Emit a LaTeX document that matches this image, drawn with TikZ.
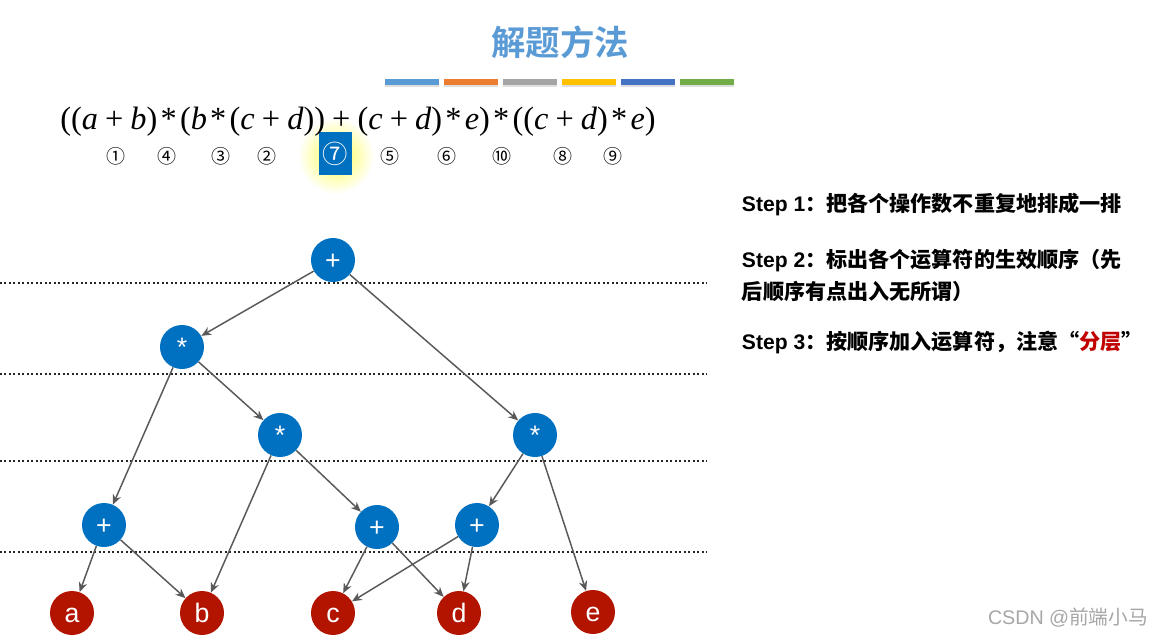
\documentclass[tikz,border=0pt]{standalone}
\usepackage{fontspec}
\setmainfont{Liberation Sans}
\newfontfamily\cjk{Noto Sans CJK SC}
\newfontfamily\cjkb{Noto Sans CJK SC Bold}
\newfontfamily\exprfont{Liberation Serif}
\usepackage{xcolor}
\usetikzlibrary{arrows.meta,positioning,calc,shadows}
\definecolor{titleblue}{RGB}{91,155,213}
\definecolor{opblue}{RGB}{0,112,192}
\definecolor{leafred}{RGB}{178,20,0}
\definecolor{arrgray}{RGB}{89,89,89}
\definecolor{barorange}{RGB}{237,125,49}
\definecolor{bargray}{RGB}{165,165,165}
\definecolor{baryellow}{RGB}{255,192,0}
\definecolor{bardblue}{RGB}{68,114,196}
\definecolor{bargreen}{RGB}{112,173,71}
\definecolor{stepred}{RGB}{192,0,0}
\newcommand\ev[1]{{\itshape #1\/}}
\newcommand\pl{\kern0.22em+\kern0.22em}
\newcommand\tm{\kern0.1em*\kern0.1em}

\begin{document}
\begin{tikzpicture}[x=0.025cm, y=-0.025cm,
    opnode/.style   = {circle, fill=opblue, inner sep=0pt, minimum size=1.1cm,
                       text height=13pt, text depth=0pt,
                       font=\fontsize{19}{22}\selectfont\color{white}},
    leafnode/.style = {opnode, fill=leafred},
    arr/.style      = {-{Stealth[length=7pt, width=6pt]}, line width=1.05pt, draw=arrgray},
    layer/.style    = {dotted, line width=1.2pt, black!85},
    bar/.style      = {minimum width=1.33cm, minimum height=0.15cm, inner sep=0pt},
    steptext/.style = {anchor=west, font=\fontsize{15}{18}\selectfont\bfseries},
    order/.style    = {font=\cjk\fontsize{13.5}{15}\selectfont}
  ]
    \useasboundingbox (0,0) rectangle (1160,638);

    % title and colour bars
    \node[font=\cjkb\fontsize{24.5}{28}\selectfont\color{titleblue}] (title) at (560,42) {解题方法};
    \foreach \c [count=\i from 0] in {titleblue,barorange,bargray,baryellow,bardblue,bargreen}
      \node[bar, fill=\c, drop shadow={opacity=0.25, shadow xshift=0pt, shadow yshift=-1.5pt}]
        (bar\i) at ({412+\i*59},82) {};

    % expression and operator order
    \shade[inner color=yellow!70, outer color=white] (336,156) circle (38);
    \node[fill=opblue, minimum width=0.83cm, minimum height=1.08cm, inner sep=0pt] (hl) at (335.5,153.5) {};
    \node[font=\exprfont\fontsize{23}{27}\selectfont] (expr) at (358,122)
      {((\ev{a}\pl\ev{b})\tm(\ev{b}\tm(\ev{c}\pl\ev{d}))\pl(\ev{c}\pl\ev{d})\tm\ev{e})\tm((\ev{c}\pl\ev{d})\tm\ev{e})};
    \foreach \x/\n in {116/①,167/④,221/③,267/②,390/⑤,447/⑥,502/⑩,563/⑧,613/⑨}
      \node[order] (ord\x) at (\x,156) {\n};
    \node[order, font=\cjk\fontsize{18}{20}\selectfont, text=white] (ord7) at (hl) {⑦};

    % steps
    \node[steptext] (s1) at (737,204) {Step 1{\cjkb ：把各个操作数不重复地排成一排}};
    \node[steptext] (s2) at (737,261) {Step 2{\cjkb ：标出各个运算符的生效顺序（先}};
    \node[steptext] (s2b) at (737,291) {{\cjkb 后顺序有点出入无所谓）}};
    \node[steptext] (s3) at (737,343) {Step 3{\cjkb ：按顺序加入运算符，注意“\textcolor{stepred}{分层}”}};

    % layers
    \foreach \y in {283,374,461,552}
      \draw[layer] (0,\y) -- (707,\y);

    % tree
    \node[opnode] (root) at (333,260) {+};
    \node[opnode] (m1) at (182,347) {*};
    \node[opnode] (m2) at (280,435) {*};
    \node[opnode] (m3) at (535,435) {*};
    \node[opnode] (p1) at (104,525) {+};
    \node[opnode] (p2) at (377,527) {+};
    \node[opnode] (p3) at (477,525) {+};
    \node[leafnode] (a) at (72,613) {a};
    \node[leafnode] (b) at (202,613) {b};
    \node[leafnode] (c) at (333,613) {c};
    \node[leafnode] (d) at (459,613) {d};
    \node[leafnode] (e) at (593,612) {e};

    \draw[arr] (root) -- (m1);
    \draw[arr] (root) -- (m3);
    \draw[arr] (m1) -- (p1);
    \draw[arr] (m1) -- (m2);
    \draw[arr] (m2) -- (b);
    \draw[arr] (m2) -- (p2);
    \draw[arr] (m3) -- (p3);
    \draw[arr] (m3) -- (e);
    \draw[arr] (p1) -- (a);
    \draw[arr] (p1) -- (b);
    \draw[arr] (p2) -- (c);
    \draw[arr] (p2) -- (d);
    \draw[arr] (p3) -- (c);
    \draw[arr] (p3) -- (d);

    % watermark
    \node[font=\fontsize{14}{16}\selectfont\color{black!35}] (mark) at (1068,618) {CSDN @{\cjk 前端小马}};
  \end{tikzpicture}
\end{document}
